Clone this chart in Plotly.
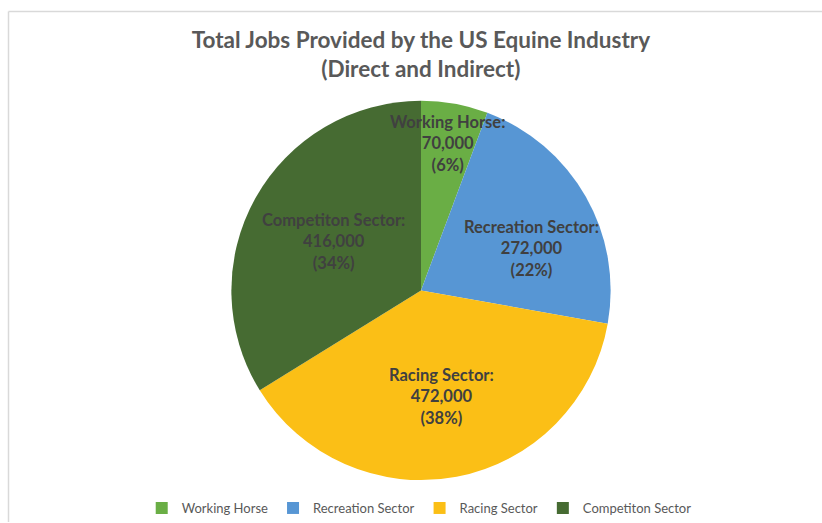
import plotly.graph_objects as go
import math

categories = ["Working Horse", "Recreation Sector", "Racing Sector", "Competiton Sector"]
jobs = [70000, 272000, 472000, 416000]
colors = ["#6aae45", "#5796d4", "#fbbf16", "#466b32"]

W, H = 822, 523
# pie geometry in pixels
cx, cy, R = 421, 291, 190

fig = go.Figure(go.Pie(
    labels=categories,
    values=jobs,
    sort=False,
    direction="clockwise",
    rotation=0,
    marker=dict(colors=colors, line=dict(width=0)),
    textinfo="none",
    hoverinfo="label+value+percent",
    domain=dict(x=[(cx - R) / W, (cx + R) / W], y=[1 - (cy + R) / H, 1 - (cy - R) / H]),
))

# label placement: radius fraction and angle offset (deg) per slice
label_rf = [0.79, 0.62, 0.57, 0.53]
label_da = [0, 9, 0, 0]
total = sum(jobs)
cum = 0
for name, v, rf, da in zip(categories, jobs, label_rf, label_da):
    mid = (cum + v / 2) / total * 360 + da
    cum += v
    px = cx + rf * R * math.sin(math.radians(mid))
    py = cy - rf * R * math.cos(math.radians(mid))
    pct = round(v / total * 100)
    fig.add_annotation(
        x=px / W, y=1 - py / H, xref="paper", yref="paper",
        text=f"<b>{name}:<br>{v:,}<br>({pct}%)</b>",
        showarrow=False, align="center",
        font=dict(family="Lato", size=16.5, color="#404040"),
        xanchor="center", yanchor="middle",
    )

fig.update_layout(
    width=W, height=H,
    margin=dict(l=0, r=0, t=0, b=0),
    paper_bgcolor="white",
    title=dict(
        text="<b>Total Jobs Provided by the US Equine Industry<br>(Direct and Indirect)</b>",
        x=0.512, xanchor="center", y=1 - 48 / H, yanchor="middle",
        font=dict(family="Lato", size=22.5, color="#595959"),
    ),
    legend=dict(
        orientation="h", x=0.51, xanchor="center", y=1 - 509 / H, yanchor="middle",
        font=dict(family="Lato", size=13, color="#595959"),
        itemwidth=30, traceorder="normal",
    ),
    shapes=[
        dict(type="line", xref="paper", yref="paper", x0=8.5 / W, y0=0, x1=8.5 / W, y1=1 - 11.5 / H,
             line=dict(color="#d9d9d9", width=1.5)),
        dict(type="line", xref="paper", yref="paper", x0=8.5 / W, y0=1 - 11.5 / H, x1=1, y1=1 - 11.5 / H,
             line=dict(color="#d9d9d9", width=1.5)),
    ],
)

fig.write_html("out.html")
